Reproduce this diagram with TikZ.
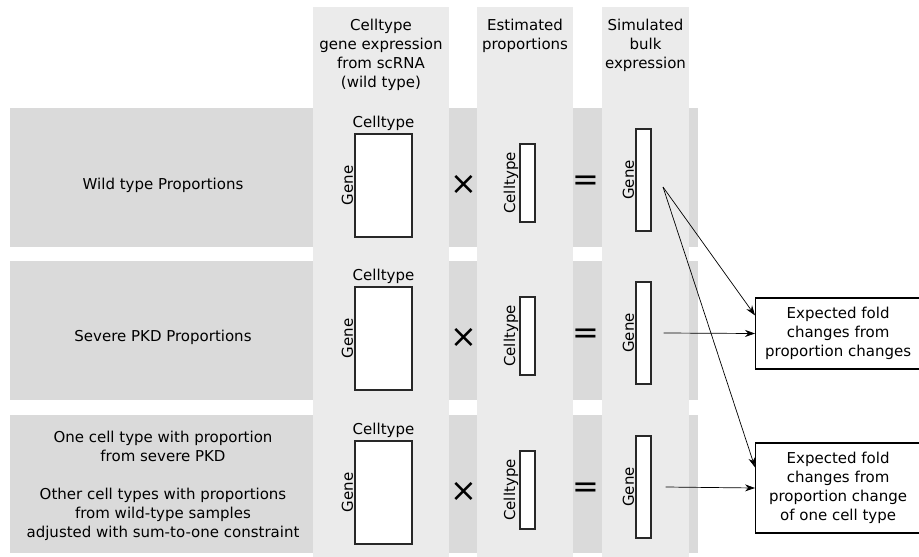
\documentclass[tikz,border=0pt]{standalone}
\usepackage{fontspec}
\setmainfont{DejaVu Sans}
\usetikzlibrary{arrows.meta}
\definecolor{rowgray}{RGB}{218,218,218}
\definecolor{colgray}{RGB}{235,235,235}
\definecolor{edgegray}{RGB}{40,40,40}
\begin{document}
\begin{tikzpicture}[x=1pt,y=-1pt,
    every node/.style={font=\fontsize{15}{19}\selectfont},
    mat/.style={draw=edgegray, fill=white, line width=1.2pt, inner sep=0pt},
    ax/.style={rotate=90, anchor=south, inner sep=1pt},
    op/.style={font=\fontsize{32}{32}\selectfont, inner sep=0pt},
    fc/.style={draw, line width=1.2pt, align=center, inner sep=0pt, minimum width=165pt, anchor=west},
    arr/.style={-{Stealth[length=10pt,width=7pt]}, line width=0.7pt}]
    \useasboundingbox (0,0) rectangle (919,557);
    % row bands
    \fill[rowgray] (10,108) rectangle (698,247);
    \fill[rowgray] (10,261) rectangle (698,400);
    \fill[rowgray] (10,415) rectangle (698,553);
    % columns
    \fill[colgray] (313,7) rectangle (449,560);
    \fill[colgray] (477,7) rectangle (573,560);
    \fill[colgray] (602,7) rectangle (689,560);
    % column headers
    \node[anchor=north, align=center, inner sep=0pt] (hmat) at (381,19) {Celltype\\gene expression\\from scRNA\\(wild type)};
    \node[anchor=north, align=center, inner sep=0pt] (hprop) at (525,19) {Estimated\\proportions};
    \node[anchor=north, align=center, inner sep=0pt] (hbulk) at (645.5,19) {Simulated\\bulk\\expression};
    % row labels
    \node (wt) at (163,185) {Wild type Proportions};
    \node (pkd) at (163,337) {Severe PKD Proportions};
    \node[align=center] (mix) at (163,486) {One cell type with proportion\\from severe PKD\\[19pt]Other cell types with proportions\\from wild-type samples\\adjusted with sum-to-one constraint};
    % row 1
    \node[mat, minimum width=57pt, minimum height=103pt] (mat1) at (383.5,185.5) {};
    \node[anchor=south, inner sep=3pt] (ct1) at (mat1.north) {Celltype};
    \node[ax] (g1) at (mat1.west) {Gene};
    \node[op] (x1) at (464,185) {×};
    \node[mat, minimum width=15pt, minimum height=78pt] (prop1) at (527.5,183) {};
    \node[ax] (c1) at (prop1.west) {Celltype};
    \node[op] (eq1) at (586,183) {=};
    \node[mat, minimum width=15pt, minimum height=102pt] (bulk1) at (643.5,180) {};
    \node[ax] (b1) at (bulk1.west) {Gene};
    % row 2
    \node[mat, minimum width=57pt, minimum height=103pt] (mat2) at (383.5,338.5) {};
    \node[anchor=south, inner sep=3pt] (ct2) at (mat2.north) {Celltype};
    \node[ax] (g2) at (mat2.west) {Gene};
    \node[op] (x2) at (464,338) {×};
    \node[mat, minimum width=15pt, minimum height=78pt] (prop2) at (527.5,336) {};
    \node[ax] (c2) at (prop2.west) {Celltype};
    \node[op] (eq2) at (586,336) {=};
    \node[mat, minimum width=15pt, minimum height=102pt] (bulk2) at (643.5,333) {};
    \node[ax] (b2) at (bulk2.west) {Gene};
    % row 3
    \node[mat, minimum width=57pt, minimum height=103pt] (mat3) at (383.5,492.5) {};
    \node[anchor=south, inner sep=3pt] (ct3) at (mat3.north) {Celltype};
    \node[ax] (g3) at (mat3.west) {Gene};
    \node[op] (x3) at (464,492) {×};
    \node[mat, minimum width=15pt, minimum height=78pt] (prop3) at (527.5,490) {};
    \node[ax] (c3) at (prop3.west) {Celltype};
    \node[op] (eq3) at (586,490) {=};
    \node[mat, minimum width=15pt, minimum height=102pt] (bulk3) at (643.5,487) {};
    \node[ax] (b3) at (bulk3.west) {Gene};
    % fold change boxes
    \node[fc, minimum height=71pt] (fc1) at (755,333.5) {Expected fold\\changes from\\proportion changes};
    \node[fc, minimum height=90pt] (fc2) at (755,488) {Expected fold\\changes from\\proportion change\\of one cell type};
    % arrows
    \coordinate (src) at (663,187);
    \draw[arr] (src) -- ([yshift=-18pt]fc1.north west);
    \draw[arr] (src) -- ([yshift=-25pt]fc2.north west);
    \draw[arr] ([xshift=12pt]bulk2.east) -- (fc1.west);
    \draw[arr] ([xshift=14pt]bulk3.east) -- (fc2.west);
\end{tikzpicture}
\end{document}
